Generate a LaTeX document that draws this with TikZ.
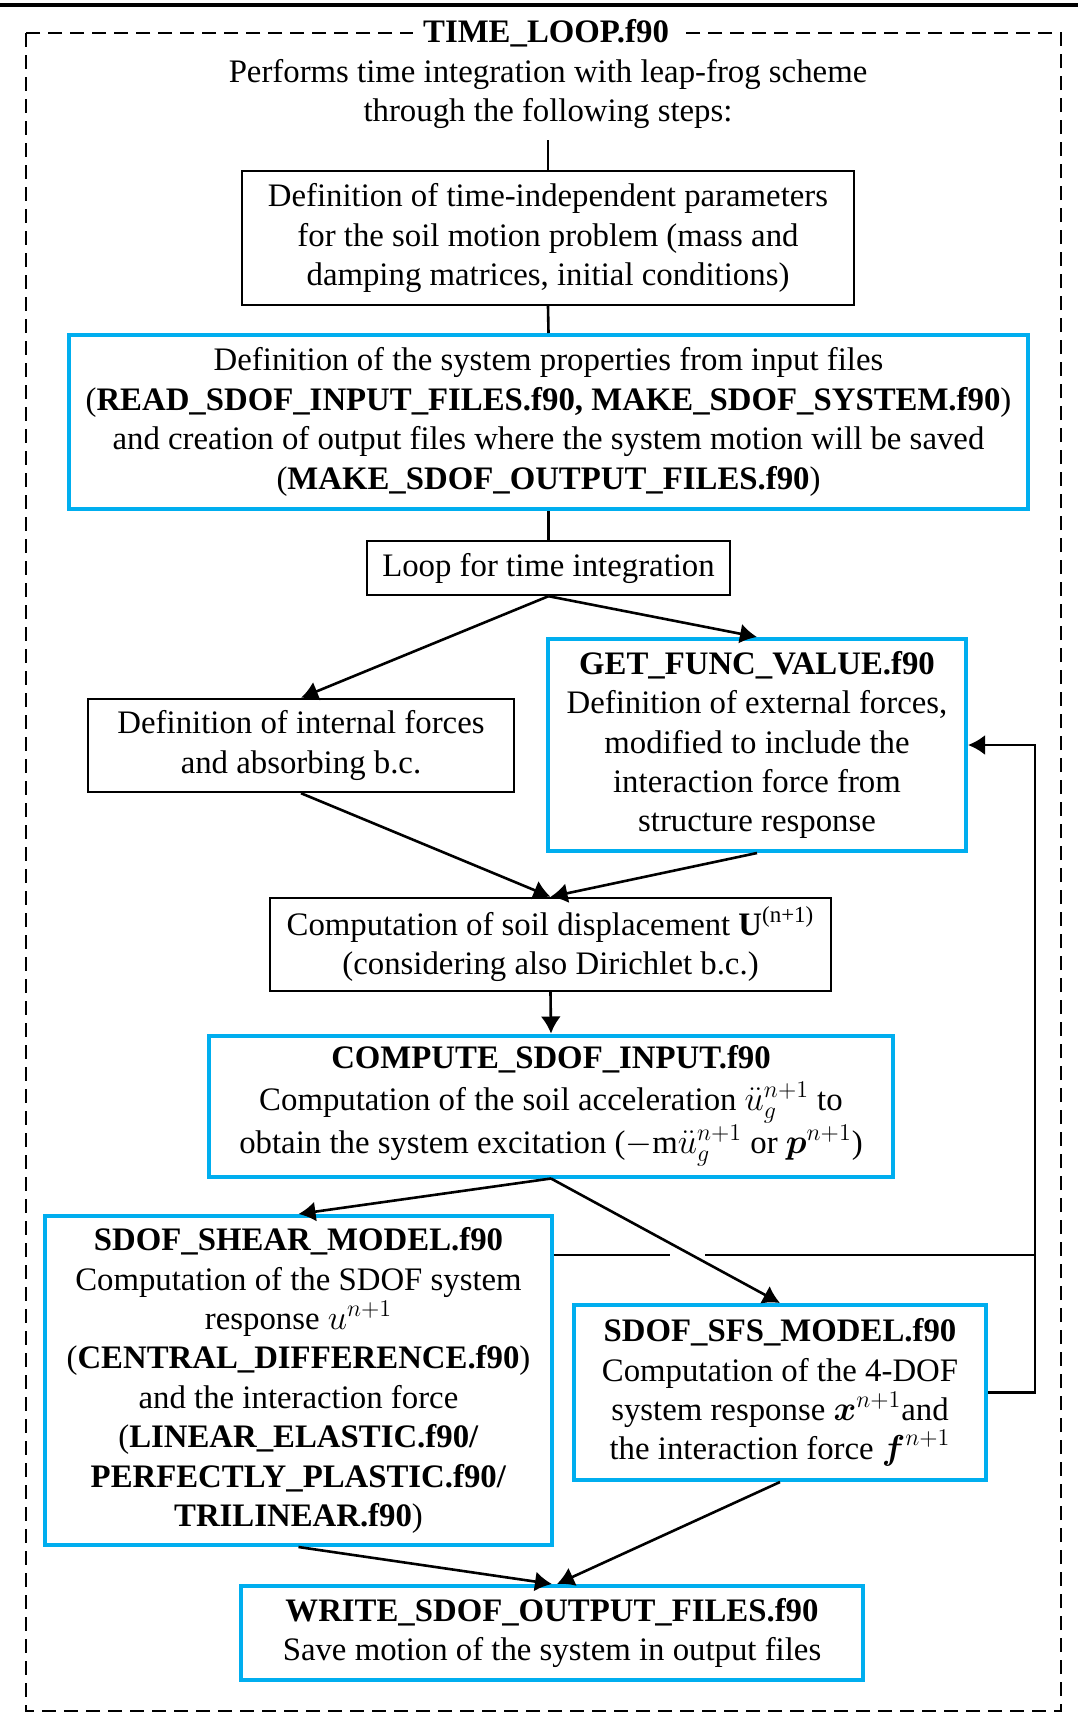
\documentclass[tikz,border=0pt]{standalone}
\usepackage{amsmath}
\usepackage{fontspec}
\setmainfont{Liberation Serif}
\usetikzlibrary{arrows.meta}
\definecolor{cyanb}{HTML}{00AEEF}
\newcommand\fsz{\fontsize{16.4}{19.7}\selectfont}
\begin{document}
\begin{tikzpicture}[x=0.5pt,y=-0.5pt,
  every node/.style={font=\fsz, align=center, inner sep=0pt},
  blkbox/.style={draw=black, line width=1.2pt},
  blubox/.style={draw=cyanb, line width=2pt},
  conn/.style={line width=1.3pt},
  arr/.style={line width=1.3pt, -{Latex[length=8.5pt,width=10pt]}}]
\useasboundingbox (0,0) rectangle (1078,1713);
% top rule and dashed frame
\draw[line width=1.8pt] (0,5) -- (1078,5);
\draw[line width=1.1pt, dash pattern=on 7pt off 4pt] (26,33) rectangle (1061,1711);
\node[fill=white, inner xsep=5pt, inner ysep=2pt] (title) at (546,33) {\textbf{TIME\_LOOP.f90}};
\node (intro) at (548,94) {Performs time integration with leap-frog scheme\\through the following steps:};
\coordinate (s0) at (548,140);
% boxes
\node[blkbox, minimum width=306pt, minimum height=67pt] (b1) at (548,238)
  {Definition of time-independent parameters\\for the soil motion problem (mass and\\damping matrices, initial conditions)};
\node[blubox, minimum width=479.5pt, minimum height=87pt] (b2) at (548.5,422)
  {Definition of the system properties from input files\\
   (\textbf{READ\_SDOF\_INPUT\_FILES.f90, MAKE\_SDOF\_SYSTEM.f90})\\
   and creation of output files where the system motion will be saved\\
   (\textbf{MAKE\_SDOF\_OUTPUT\_FILES.f90})};
\node[blkbox, minimum width=181.5pt, minimum height=27pt] (b3) at (548.5,568)
  {Loop for time integration};
\node[blkbox, minimum width=213pt, minimum height=46.5pt] (b4) at (301,745.5)
  {Definition of internal forces\\and absorbing b.c.};
\node[blubox, minimum width=209pt, minimum height=106pt] (b5) at (757,745)
  {\textbf{GET\_FUNC\_VALUE.f90}\\Definition of external forces,\\modified to include the\\interaction force from\\structure response};
\node[blkbox, minimum width=280.5pt, minimum height=46.5pt] (b6) at (550.5,944.5)
  {Computation of soil displacement \textbf{U}\textsuperscript{(n+1)}\\(considering also Dirichlet b.c.)};
\node[blubox, minimum width=342pt, minimum height=70.5pt] (b7) at (551,1106)
  {\textbf{COMPUTE\_SDOF\_INPUT.f90}\\[1pt]
   Computation of the soil acceleration $\ddot{u}_g^{n+1}$ to\\
   obtain the system excitation ($-$m$\ddot{u}_g^{n+1}$ or $\boldsymbol{p}^{n+1}$)};
\node[blubox, minimum width=253.5pt, minimum height=164.5pt] (b8) at (298.5,1380.5)
  {\textbf{SDOF\_SHEAR\_MODEL.f90}\\
   Computation of the SDOF system\\
   response $u^{n+1}$\\
   (\textbf{CENTRAL\_DIFFERENCE.f90})\\
   and the interaction force\\
   (\textbf{LINEAR\_ELASTIC.f90/}\\
   \textbf{PERFECTLY\_PLASTIC.f90/}\\
   \textbf{TRILINEAR.f90})};
\node[blubox, minimum width=206pt, minimum height=87.5pt] (b9) at (780,1392.5)
  {\textbf{SDOF\_SFS\_MODEL.f90}\\
   Computation of the 4-DOF\\
   system response $\boldsymbol{x}^{n+1}$and\\
   the interaction force $\boldsymbol{f}^{n+1}$};
\node[blubox, minimum width=311pt, minimum height=47pt] (b10) at (552,1633)
  {\textbf{WRITE\_SDOF\_OUTPUT\_FILES.f90}\\Save motion of the system in output files};
% connectors
\draw[conn] (s0) -- (b1.north);
\draw[conn] (b1.south) -- (b2.north);
\draw[conn] (b2.south) -- (b3.north);
\draw[arr] (b3.south) -- (b4.north);
\draw[arr] (b3.south) -- (b5.north);
\draw[arr] (b4.south) -- (b6.north);
\draw[arr] (b5.south) -- (b6.north);
\draw[arr] (b6.south) -- (b7.north);
\draw[arr] (b7.south) -- (b8.north);
\draw[arr] (b7.south) -- (b9.north);
\draw[arr] (b8.south) -- (b10.north);
\draw[arr] (b9.south) -- ([xshift=2.5pt]b10.north);
% feedback
\coordinate (rx) at (1035,1255);
\coordinate (gapL) at (670,1255);
\coordinate (gapR) at (705,1255);
\draw[conn] (b8.east |- rx) -- (gapL);
\draw[conn] (gapR) -- (rx);
\draw[arr] (b9.east) -| (rx) |- (b5.east);
\end{tikzpicture}
\end{document}
